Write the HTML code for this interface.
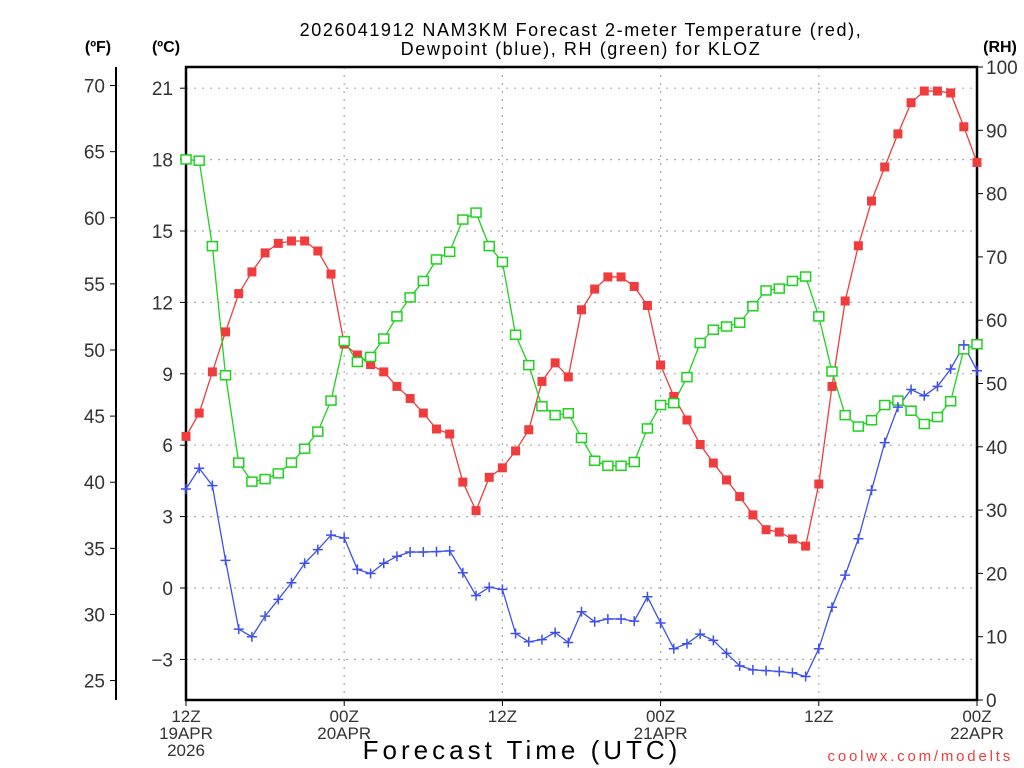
<!DOCTYPE html>
<html><head><meta charset="utf-8"><style>
html,body{margin:0;padding:0;background:#fff;}
svg{display:block;font-family:"Liberation Sans",sans-serif;}
</style></head><body>
<svg id="chart" width="1024" height="768" viewBox="0 0 1024 768" xmlns="http://www.w3.org/2000/svg">
<rect x="0" y="0" width="1024" height="768" fill="#fff"/>
<text x="581" y="36" font-size="18" text-anchor="middle" fill="#000" letter-spacing="1.6">2026041912 NAM3KM Forecast 2-meter Temperature (red),</text>
<text x="581" y="55" font-size="18" text-anchor="middle" fill="#000" letter-spacing="1.6">Dewpoint (blue), RH (green) for KLOZ</text>
<text x="98" y="52" font-size="16" font-weight="bold" text-anchor="middle">(ºF)</text>
<text x="166" y="52" font-size="16" font-weight="bold" text-anchor="middle">(ºC)</text>
<text x="1000" y="52" font-size="16" font-weight="bold" text-anchor="middle">(RH)</text>
<text x="522" y="759" font-size="26" text-anchor="middle" letter-spacing="4">Forecast Time (UTC)</text>
<text x="1013" y="761" font-size="15" text-anchor="end" fill="#f03c3c" letter-spacing="2.8">coolwx.com/modelts</text>
<g id="grid"></g><g id="axes"></g><g id="series"></g>
</svg>
<script>
const hours = Array.from({length:61},(_,i)=>i);
const tempC = [6.37,7.35,9.08,10.76,12.37,13.28,14.08,14.48,14.58,14.58,14.16,13.19,10.25,9.79,9.39,9.08,8.47,7.96,7.35,6.68,6.47,4.45,3.25,4.65,5.05,5.76,6.65,8.68,9.46,8.87,11.69,12.56,13.07,13.07,12.67,11.87,9.37,8.05,7.06,6.03,5.25,4.54,3.84,3.07,2.45,2.35,2.06,1.76,4.37,8.47,12.06,14.38,16.26,17.69,19.08,20.39,20.88,20.88,20.80,19.38,17.88];
const dewC = [4.16,5.03,4.30,1.16,-1.73,-2.05,-1.18,-0.48,0.22,1.04,1.61,2.22,2.10,0.78,0.61,1.04,1.33,1.51,1.51,1.53,1.56,0.64,-0.32,0.03,-0.06,-1.91,-2.26,-2.17,-1.87,-2.29,-1.00,-1.42,-1.30,-1.30,-1.39,-0.37,-1.47,-2.55,-2.34,-1.94,-2.20,-2.74,-3.27,-3.44,-3.47,-3.51,-3.56,-3.72,-2.55,-0.81,0.54,2.07,4.11,6.11,7.60,8.34,8.08,8.47,9.20,10.21,9.13];
const rhPct = [85.4,85.2,71.7,51.3,37.5,34.5,34.9,35.8,37.5,39.7,42.4,47.3,56.7,53.4,54.2,57.1,60.6,63.6,66.2,69.6,70.8,75.9,77.0,71.7,69.2,57.7,52.9,46.4,45.0,45.3,41.4,37.8,37.0,37.0,37.6,42.9,46.6,46.9,51.0,56.4,58.5,59.0,59.6,62.2,64.7,65.0,66.2,66.9,60.6,51.9,45.0,43.2,44.2,46.6,47.3,45.7,43.6,44.7,47.2,55.4,56.2];
const cTicks = [-3,0,3,6,9,12,15,18,21];
const fTicks = [25,30,35,40,45,50,55,60,65,70];
const rhTicks = [0,10,20,30,40,50,60,70,80,90,100];
const xTickHours = [0,12,24,36,48,60];
const xTickLabels = [["12Z","19APR","2026"],["00Z","20APR"],["12Z"],["00Z","21APR"],["12Z"],["00Z","22APR"]];

const L=186,R=977,T=67,B=700;
const xS=h=>L+(h-0)*(R-L)/60;
const yC=c=>588-c*23.8;
const yF=f=>yC((f-32)*5/9);
const yRH=r=>B-r*(B-T)/100;
const NS="http://www.w3.org/2000/svg";
function mk(tag,attrs,parent,txt){const e=document.createElementNS(NS,tag);for(const k in attrs)e.setAttribute(k,attrs[k]);if(txt!==undefined)e.textContent=txt;parent.appendChild(e);return e;}
const grid=document.getElementById('grid'),axes=document.getElementById('axes'),ser=document.getElementById('series');

cTicks.forEach(c=>{const y=yC(c);
 const g=mk('line',{x1:L,x2:R,y1:y,y2:y,stroke:'#aaa','stroke-width':1.2,'stroke-dasharray':'2,6'},grid);
 
 
 mk('line',{x1:L-6,x2:L,y1:y,y2:y,stroke:'#000','stroke-width':1},axes);
 const t=mk('text',{x:173,y:y+7,'font-size':19,'text-anchor':'end',fill:'#333'},axes,c<0?'\u2212'+Math.abs(c):String(c));
 
 
});
xTickHours.forEach((h,i)=>{const x=xS(h);
 if(i>0&&i<xTickHours.length-1){const g=mk('line',{x1:x,x2:x,y1:T,y2:B,stroke:'#aaa','stroke-width':1.2,'stroke-dasharray':'2,6'},grid);
 
 }
 mk('line',{x1:x,x2:x,y1:B,y2:B+6,stroke:'#000','stroke-width':1},axes);
 xTickLabels[i].forEach((s,j)=>{const t=mk('text',{x:x,y:722+j*17,'font-size':17,'text-anchor':'middle',fill:'#333'},axes,s);
 
 });
});
fTicks.forEach(f=>{const y=yF(f);
 mk('line',{x1:110,x2:116,y1:y,y2:y,stroke:'#000','stroke-width':1},axes);
 const t=mk('text',{x:105,y:y+7,'font-size':19,'text-anchor':'end',fill:'#333'},axes,String(f));
 
 
});
rhTicks.forEach(r=>{const y=yRH(r);
 mk('line',{x1:R,x2:R+6,y1:y,y2:y,stroke:'#000','stroke-width':1},axes);
 const t=mk('text',{x:986,y:y+7,'font-size':19,'text-anchor':'start',fill:'#333'},axes,String(r));
 
 
});
const fa=mk('line',{x1:116,x2:116,y1:T,y2:B,stroke:'#000','stroke-width':2},axes);


const fr=mk('rect',{x:L,y:T,width:R-L,height:B-T,fill:'none',stroke:'#000','stroke-width':2.5},axes);



function line(vals,yf,color,name){
 const p=mk('polyline',{points:vals.map((v,i)=>xS(hours[i])+','+yf(v)).join(' '),fill:'none',stroke:color,'stroke-width':1.3},ser);
 
 
}
line(tempC,yC,'#f03c3c','temperature');
line(rhPct,yRH,'#1ed21e','rh');
line(dewC,yC,'#3c50f0','dewpoint');
tempC.forEach((v,i)=>{const m=mk('rect',{x:xS(hours[i])-4.5,y:yC(v)-4.5,width:9,height:9,fill:'#f03c3c'},ser);
 
 });
rhPct.forEach((v,i)=>{const m=mk('rect',{x:xS(hours[i])-5,y:yRH(v)-4.5,width:10,height:9,fill:'#fff',stroke:'#1ed21e','stroke-width':1.5},ser);
 
 });
dewC.forEach((v,i)=>{const x=xS(hours[i]),y=yC(v);
 const m=mk('path',{d:`M${x-5},${y}H${x+5}M${x},${y-5}V${y+5}`,stroke:'#3c50f0','stroke-width':1.5},ser);
 
 });
</script>
</body></html>
